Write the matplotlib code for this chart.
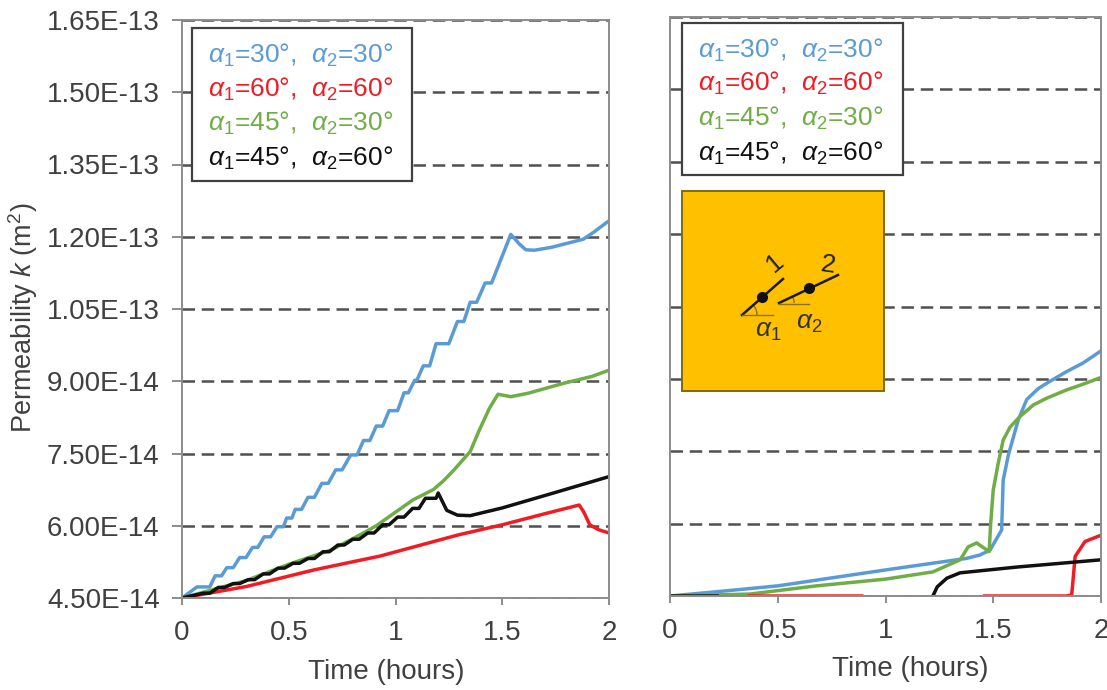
#!/usr/bin/env python3
# -*- coding: utf-8 -*-
import matplotlib
matplotlib.use("Agg")
import matplotlib.pyplot as plt
from matplotlib.patches import Rectangle, Arc
from matplotlib.lines import Line2D

plt.rcParams['font.family'] = ['Liberation Sans', 'DejaVu Sans']
plt.rcParams['mathtext.fontset'] = 'custom'
plt.rcParams['mathtext.rm'] = 'Liberation Sans'
plt.rcParams['mathtext.it'] = 'Liberation Sans:italic'
plt.rcParams['mathtext.default'] = 'regular'

yTicks = [4.5, 6.0, 7.5, 9.0, 10.5, 12.0, 13.5, 15.0, 16.5]
yTickLabels = ['4.50E-14', '6.00E-14', '7.50E-14', '9.00E-14', '1.05E-13',
               '1.20E-13', '1.35E-13', '1.50E-13', '1.65E-13']
xTicks = [0, 0.5, 1, 1.5, 2]
xTickLabels = ['0', '0.5', '1', '1.5', '2']

# permeability in units of 1E-14 m2
leftBlueT = [0, 0.07, 0.10, 0.13, 0.155, 0.185, 0.21, 0.24, 0.27, 0.30, 0.33, 0.355, 0.385, 0.415,
             0.445, 0.475, 0.49, 0.515, 0.53, 0.56, 0.59, 0.62, 0.655, 0.685, 0.72, 0.75, 0.79, 0.82,
             0.85, 0.88, 0.91, 0.94, 0.97, 1.01, 1.04, 1.06, 1.09, 1.10, 1.13, 1.16, 1.19,
             1.25, 1.29, 1.32, 1.35, 1.38, 1.42, 1.45, 1.50, 1.54, 1.58, 1.61, 1.65, 1.73,
             1.81, 1.88, 1.93, 1.99, 2]
leftBlueK = [4.5, 4.73, 4.73, 4.73, 4.96, 4.96, 5.13, 5.13, 5.34, 5.34, 5.55, 5.55, 5.77, 5.77,
             5.98, 5.98, 6.16, 6.16, 6.34, 6.34, 6.59, 6.59, 6.88, 6.88, 7.16, 7.16, 7.47, 7.47,
             7.77, 7.77, 8.07, 8.07, 8.39, 8.39, 8.76, 8.76, 9.02, 9.02, 9.32, 9.32, 9.78,
             9.78, 10.24, 10.24, 10.64, 10.64, 11.04, 11.04, 11.6, 12.05, 11.85, 11.73, 11.72, 11.78,
             11.87, 11.95, 12.1, 12.3, 12.33]

leftGreenT = [0, 0.3, 0.5, 0.7, 0.85, 0.91, 0.99, 1.083, 1.177, 1.224, 1.27, 1.35, 1.39, 1.44, 1.48, 1.54, 1.62, 1.79, 1.92, 2]
leftGreenK = [4.5, 4.86, 5.2, 5.5, 5.85, 6.0, 6.25, 6.54, 6.75, 6.93, 7.14, 7.54, 7.96, 8.44, 8.73, 8.68, 8.75, 8.96, 9.1, 9.23]

leftBlackT = [0, 0.10, 0.13, 0.17, 0.20, 0.24, 0.27, 0.31, 0.34, 0.38, 0.41, 0.45, 0.48, 0.52, 0.55,
              0.59, 0.62, 0.66, 0.69, 0.73, 0.76, 0.80, 0.83, 0.87, 0.90, 0.94, 0.97, 1.01, 1.04,
              1.08, 1.11, 1.14, 1.19, 1.2, 1.24, 1.29, 1.35, 1.5, 1.74, 2]
leftBlackK = [4.5, 4.6, 4.6, 4.72, 4.72, 4.8, 4.8, 4.88, 4.88, 5.0, 5.0, 5.12, 5.12, 5.22, 5.22,
              5.32, 5.32, 5.46, 5.46, 5.6, 5.6, 5.72, 5.72, 5.85, 5.85, 6.02, 6.02, 6.18, 6.18,
              6.36, 6.36, 6.57, 6.57, 6.68, 6.32, 6.22, 6.21, 6.37, 6.68, 7.02]

leftRedT = [0, 0.303, 0.615, 0.927, 1.294, 1.5, 1.7, 1.86, 1.88, 1.91, 1.95, 2]
leftRedK = [4.5, 4.74, 5.08, 5.37, 5.81, 6.02, 6.25, 6.43, 6.3, 6.02, 5.92, 5.85]

rightBlueT = [0, 0.22, 0.5, 1.0, 1.377, 1.438, 1.485, 1.539, 1.546, 1.57, 1.616, 1.655, 1.709, 1.763, 1.84, 1.917, 2]
rightBlueK = [4.5, 4.59, 4.71, 5.04, 5.28, 5.35, 5.45, 5.87, 6.9, 7.42, 8.15, 8.57, 8.8, 8.95, 9.15, 9.33, 9.58]

rightGreenT = [0, 0.37, 0.68, 1, 1.22, 1.346, 1.384, 1.423, 1.481, 1.488, 1.5, 1.523, 1.546, 1.578, 1.624, 1.686, 1.748, 1.84, 1.917, 2]
rightGreenK = [4.5, 4.54, 4.71, 4.85, 5.0, 5.25, 5.52, 5.6, 5.42, 6.0, 6.7, 7.25, 7.73, 8.0, 8.22, 8.46, 8.6, 8.77, 8.89, 9.03]

rightBlackT = [1.22, 1.24, 1.285, 1.346, 1.61, 2]
rightBlackK = [4.5, 4.69, 4.87, 4.98, 5.1, 5.25]
rightBlackStartT = [0, 0.22]
rightBlackStartK = [4.5, 4.5]

rightRedT = [1.46, 1.84, 1.864, 1.88, 1.926, 2]
rightRedK = [4.5, 4.5, 4.52, 5.32, 5.63, 5.76]
rightRedFlatT = [0.37, 0.89]
rightRedFlatK = [4.5, 4.5]

blue = '#5B9BD5'
red = '#F01C24'
green = '#70AD47'
black = '#111111'
gridColor = '#505050'
spineColor = '#8C8C8C'
textColor = '#404040'
figW, figH = 1107, 690
lineW = 2.5


def addAxes(fig, left, right, top, bottom):
    ax = fig.add_axes([left / figW, 1 - bottom / figH, (right - left) / figW, (bottom - top) / figH])
    ax.set_xlim(0, 2)
    ax.set_ylim(4.5, 16.5)
    ax.set_xticks(xTicks)
    ax.set_xticklabels(xTickLabels)
    ax.set_yticks(yTicks)
    ax.set_axisbelow(True)
    ax.yaxis.grid(True, color=gridColor, lw=1.8, linestyle=(0, (5.0, 2.7)))
    ax.tick_params(axis='x', length=5, width=1.4, color=spineColor, labelsize=20,
                   labelcolor=textColor, pad=11)
    for side in ax.spines:
        ax.spines[side].set_color(spineColor)
        ax.spines[side].set_linewidth(1.4)
    return ax


def addLegend(fig, x0, x1, y0, y1, textX, rowY):
    fig.patches.append(Rectangle((x0 / figW, 1 - y1 / figH), (x1 - x0) / figW, (y1 - y0) / figH,
                                 transform=fig.transFigure, facecolor='white', edgecolor='#404040',
                                 lw=1.6, zorder=5))
    rows = [('30', '30', blue), ('60', '60', red), ('45', '30', green), ('45', '60', black)]
    for (a1, a2, color), y in zip(rows, rowY):
        label = r'$\mathit{\alpha}_{\mathit{1}}$=' + a1 + '°,  ' + r'$\mathit{\alpha}_{\mathit{2}}$=' + a2 + '°'
        fig.text(textX / figW, 1 - y / figH, label, color=color, fontsize=19,
                 va='center', ha='left', zorder=6)


fig = plt.figure(figsize=(figW / 100, figH / 100), dpi=100)

axLeft = addAxes(fig, 182, 609, 20, 598)
axLeft.set_yticklabels(yTickLabels)
axLeft.tick_params(axis='y', length=7, width=1.4, color=spineColor, labelsize=20,
                   labelcolor=textColor, pad=9)
axLeft.plot(leftBlueT, leftBlueK, color=blue, lw=lineW)
axLeft.plot(leftGreenT, leftGreenK, color=green, lw=lineW)
axLeft.plot(leftRedT, leftRedK, color=red, lw=lineW)
axLeft.plot(leftBlackT, leftBlackK, color=black, lw=lineW)
axLeft.set_xlabel('Time (hours)', fontsize=20, color=textColor)
axLeft.xaxis.set_label_coords(0.478, -0.105)
fig.text(23 / figW, 1 - 318 / figH, r'Permeability $\mathit{k}$ (m$^2$)', rotation=90,
         fontsize=19.5, color=textColor, va='center', ha='center')

axRight = addAxes(fig, 670, 1101, 17, 596)
axRight.set_yticklabels([])
axRight.tick_params(axis='y', length=0)
axRight.plot(rightBlueT, rightBlueK, color=blue, lw=lineW)
axRight.plot(rightGreenT, rightGreenK, color=green, lw=lineW)
axRight.plot(rightRedFlatT, rightRedFlatK, color=red, lw=lineW, snap=False)
axRight.plot(rightRedT, rightRedK, color=red, lw=lineW)
axRight.plot(rightBlackStartT, rightBlackStartK, color=black, lw=lineW, snap=False)
axRight.plot(rightBlackT, rightBlackK, color=black, lw=lineW)
axRight.set_xlabel('Time (hours)', fontsize=20, color=textColor)
axRight.xaxis.set_label_coords(0.557, -0.103)

addLegend(fig, 192, 412, 28, 181, 208, [55, 89, 123, 158])
addLegend(fig, 682, 903, 23, 175, 698, [50, 83, 118, 153])

# little sketch of the two fractures, drawn in picture pixels
sketch = fig.add_axes([0, 0, 1, 1], zorder=7)
sketch.set_xlim(0, figW)
sketch.set_ylim(figH, 0)
sketch.axis('off')
sketch.patch.set_alpha(0)
sketch.add_patch(Rectangle((682, 191), 202, 200, facecolor='#FFC000', edgecolor='#7F6A10', lw=1.4))
sketch.add_line(Line2D([742, 783], [315, 279], color='#1A1A1A', lw=1.8))
sketch.add_line(Line2D([779, 838], [303, 275], color='#1A1A1A', lw=1.8))
sketch.add_line(Line2D([742, 773], [315, 315], color='#8A7020', lw=1))
sketch.add_line(Line2D([779, 809], [304, 304], color='#8A7020', lw=1))
sketch.add_patch(Arc((742, 315), 30, 30, theta1=-41, theta2=0, color='#8A7020', lw=1))
sketch.add_patch(Arc((779, 303), 30, 30, theta1=-25, theta2=0, color='#8A7020', lw=1))
sketch.plot([762, 809], [297, 288], 'o', color='#111111', ms=7)
sketch.text(768, 331, r'$\mathit{\alpha}_{\mathit{1}}$', fontsize=19, color='#333333', ha='center', va='center')
sketch.text(809, 323, r'$\mathit{\alpha}_{\mathit{2}}$', fontsize=19, color='#333333', ha='center', va='center')
sketch.text(775, 263, '1', fontsize=19, color='#222222', ha='center', va='center', rotation=40)
sketch.text(828, 265, '2', fontsize=19, color='#222222', ha='center', va='center', rotation=-8)

fig.savefig('out.png', dpi=100)
